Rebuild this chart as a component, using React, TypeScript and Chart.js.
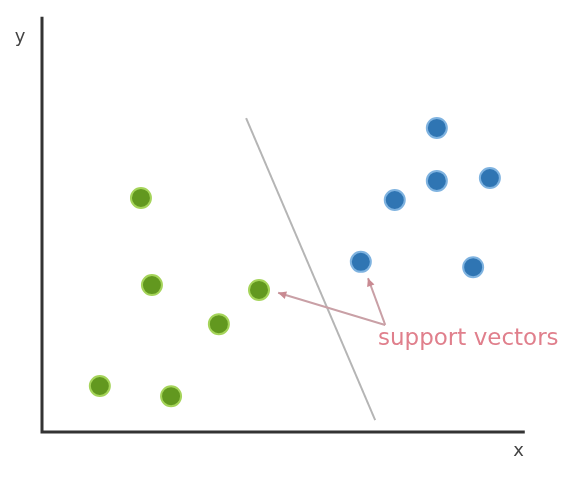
import React, { useEffect, useRef } from "react";
import { Chart, registerables } from "chart.js";

Chart.register(...registerables);

const greenX = [2.07, 2.3, 4.54, 3.7, 1.21, 2.7];
const greenY = [5.75, 3.61, 3.49, 2.65, 1.13, 0.88];
const blueX = [8.26, 8.26, 9.37, 7.38, 6.67, 9.02];
const blueY = [7.47, 6.17, 6.24, 5.7, 4.18, 4.05];
const lineX = [4.27, 6.97];
const lineY = [7.71, 0.29];
const annotationText = "support vectors";
const annotationPos = [7.03, 2.29];
const arrowTail = [7.18, 2.63];
const arrowHeads = [
  [4.94, 3.42],
  [6.82, 3.78],
];
const axisLabels = ["x", "y"];

const overlay = {
  id: "overlay",
  afterDatasetsDraw(chart: any) {
    const { ctx, chartArea, scales } = chart;
    const xs = scales.x;
    const ys = scales.y;
    ctx.save();
    // axes
    ctx.strokeStyle = "#333333";
    ctx.lineWidth = 3;
    ctx.beginPath();
    ctx.moveTo(chartArea.left, ys.getPixelForValue(10.2));
    ctx.lineTo(chartArea.left, chartArea.bottom);
    ctx.lineTo(xs.getPixelForValue(10.1), chartArea.bottom);
    ctx.stroke();
    ctx.fillStyle = "#444444";
    ctx.font = "18px 'DejaVu Sans'";
    ctx.textAlign = "center";
    ctx.textBaseline = "middle";
    ctx.fillText(axisLabels[0], xs.getPixelForValue(9.97), chartArea.bottom + 19);
    ctx.fillText(axisLabels[1], chartArea.left - 22, ys.getPixelForValue(9.7));
    // arrows
    ctx.strokeStyle = "#c9a0a6";
    ctx.fillStyle = "#c98a92";
    ctx.lineWidth = 2;
    const tx = xs.getPixelForValue(arrowTail[0]);
    const ty = ys.getPixelForValue(arrowTail[1]);
    arrowHeads.forEach(([hx0, hy0]) => {
      const hx = xs.getPixelForValue(hx0);
      const hy = ys.getPixelForValue(hy0);
      ctx.beginPath();
      ctx.moveTo(tx, ty);
      ctx.lineTo(hx, hy);
      ctx.stroke();
      const a = Math.atan2(hy - ty, hx - tx);
      ctx.beginPath();
      ctx.moveTo(hx, hy);
      ctx.lineTo(hx - 9 * Math.cos(a - 0.45), hy - 9 * Math.sin(a - 0.45));
      ctx.lineTo(hx - 9 * Math.cos(a + 0.45), hy - 9 * Math.sin(a + 0.45));
      ctx.closePath();
      ctx.fill();
    });
    // annotation
    ctx.fillStyle = "#e07f8c";
    ctx.font = "23px 'DejaVu Sans'";
    ctx.textAlign = "left";
    ctx.textBaseline = "middle";
    ctx.fillText(annotationText, xs.getPixelForValue(annotationPos[0]), ys.getPixelForValue(annotationPos[1]));
    ctx.restore();
  },
};

export default function App() {
  const ref = useRef<HTMLCanvasElement>(null);
  useEffect(() => {
    document.body.style.margin = "0";
    const toPts = (xa: number[], ya: number[]) => xa.map((x, i) => ({ x, y: ya[i] }));
    const chart = new Chart(ref.current!, {
      type: "scatter",
      data: {
        datasets: [
          {
            label: "boundary",
            data: toPts(lineX, lineY),
            showLine: true,
            borderColor: "#b5b5b5",
            borderWidth: 2,
            pointRadius: 0,
          },
          {
            label: "green",
            data: toPts(greenX, greenY),
            backgroundColor: "#62981f",
            borderColor: "#a5d45a",
            borderWidth: 2,
            pointRadius: 10,
          },
          {
            label: "blue",
            data: toPts(blueX, blueY),
            backgroundColor: "#2f75b3",
            borderColor: "#7fb3e0",
            borderWidth: 2,
            pointRadius: 10,
          },
        ] as any,
      },
      options: {
        animation: false,
        responsive: false,
        maintainAspectRatio: false,
        layout: { padding: { left: 42, top: 25, right: 61, bottom: 45 } },
        scales: {
          x: { type: "linear", min: 0, max: 10, display: false },
          y: { type: "linear", min: 0, max: 10, display: false },
        },
        plugins: { legend: { display: false }, tooltip: { enabled: false } },
      },
      plugins: [overlay],
    });
    return () => chart.destroy();
  }, []);
  return <canvas ref={ref} width={581} height={477} style={{ display: "block" }} />;
}
